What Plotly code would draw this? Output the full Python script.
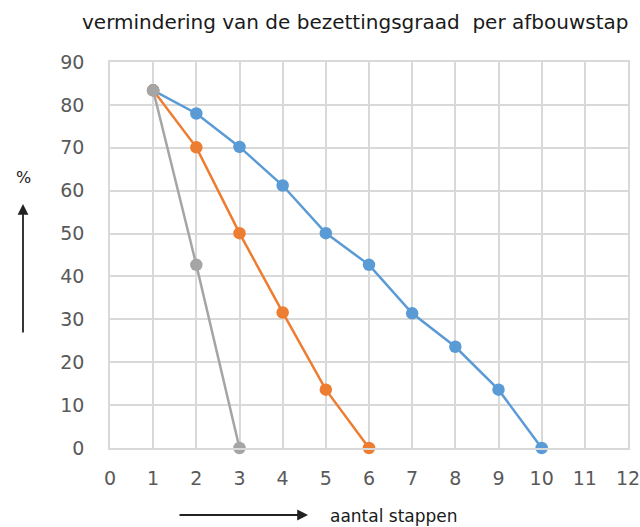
import plotly.graph_objects as go

blue_x = [1, 2, 3, 4, 5, 6, 7, 8, 9, 10]
blue_y = [83.4, 78.0, 70.2, 61.2, 50.1, 42.7, 31.4, 23.6, 13.6, 0]
orange_x = [1, 2, 3, 4, 5, 6]
orange_y = [83.4, 70.1, 50.1, 31.6, 13.6, 0]
gray_x = [1, 2, 3]
gray_y = [83.4, 42.7, 0]

x_ticks = list(range(0, 13))
y_ticks = list(range(0, 100, 10))

fig = go.Figure()
for xs, ys, col in [(blue_x, blue_y, "#5B9BD5"), (orange_x, orange_y, "#ED7D31"), (gray_x, gray_y, "#A5A5A5")]:
    fig.add_trace(go.Scatter(x=xs, y=ys, mode="lines+markers",
                             line=dict(color=col, width=2.5),
                             marker=dict(color=col, size=12.5),
                             showlegend=False, cliponaxis=False))

L, R, T, B = 110, 12, 62, 79
fig.update_layout(
    width=640, height=527,
    margin=dict(l=L, r=R, t=T, b=B),
    plot_bgcolor="white", paper_bgcolor="white",
    font=dict(family="DejaVu Sans", color="#595959"),
    xaxis=dict(range=[0, 12], tickvals=x_ticks, showgrid=True, gridcolor="#D9D9D9", gridwidth=1.5,
               zeroline=False, showline=True, linecolor="#D9D9D9", linewidth=1.5, mirror=True,
               automargin=False, ticklabeloverflow="allow",
               tickfont=dict(size=19, color="#595959"), ticks="", ticklabelstandoff=12),
    yaxis=dict(range=[0, 90], tickvals=y_ticks, showgrid=True, gridcolor="#D9D9D9", gridwidth=1.5,
               zeroline=False, showline=True, linecolor="#D9D9D9", linewidth=1.5, mirror=True,
               automargin=False, ticklabeloverflow="allow",
               tickfont=dict(size=19, color="#595959"), ticks="", ticklabelstandoff=20),
)

W, H = 640 - L - R, 527 - T - B
def px(x):
    return (x - L) / W
def py(y):
    return (527 - B - y) / H

fig.add_annotation(text="vermindering van de bezettingsgraad  per afbouwstap",
                   xref="paper", yref="paper", x=px(355), y=py(22), xanchor="center", yanchor="middle",
                   showarrow=False, font=dict(size=20, color="#1a1a1a"))
fig.add_annotation(text="%", xref="paper", yref="paper", x=px(23), y=py(177), xanchor="center", yanchor="middle",
                   showarrow=False, font=dict(size=16, color="#1a1a1a"))
fig.add_annotation(text="aantal stappen", xref="paper", yref="paper", x=px(328), y=py(516),
                   xanchor="left", yanchor="middle",
                   showarrow=False, font=dict(size=17, color="#1a1a1a"))
# vertical arrow
fig.add_annotation(xref="paper", yref="paper", x=px(23), y=py(204),
                   ax=0, ay=130, text="", showarrow=True, arrowhead=2, arrowsize=1.2,
                   arrowwidth=1.8, arrowcolor="#222222")
# horizontal arrow
fig.add_annotation(xref="paper", yref="paper", x=px(308), y=py(515),
                   ax=-130, ay=0, text="", showarrow=True, arrowhead=2, arrowsize=1.2,
                   arrowwidth=1.8, arrowcolor="#222222")

fig.write_html("out.html")
